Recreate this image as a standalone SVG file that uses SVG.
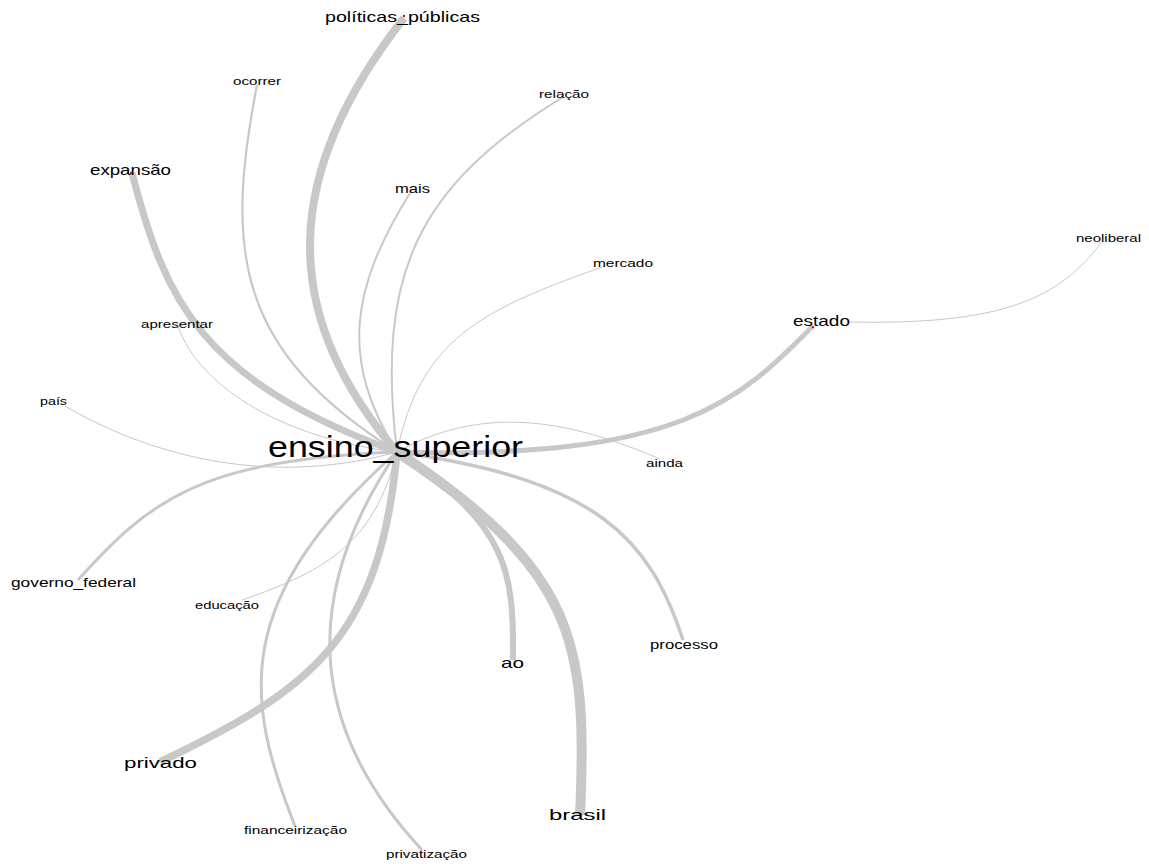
<svg xmlns="http://www.w3.org/2000/svg" width="1149" height="864" viewBox="0 0 1149 864">
<style>
.e{fill:none;stroke:#c8c8c8;stroke-linecap:butt}
.t{font-family:"Liberation Sans",Arial,sans-serif;fill:#000000}
.d{fill:#d01010}
</style>
<rect width="1149" height="864" fill="#ffffff"/>
<g id="connectors">
<path class="e" stroke-width="8" d="M404,18 C285,170 275,310 397,452"/>
<path class="e" stroke-width="2.2" d="M257,85 C225,250 235,350 397,452"/>
<path class="e" stroke-width="2" d="M563,97 C420,185 375,270 397,452"/>
<path class="e" stroke-width="7" d="M132,173 C165,300 200,380 397,452"/>
<path class="e" stroke-width="2" d="M410,193 C350,290 340,360 397,452"/>
<path class="e" stroke-width="1" d="M605,266 C480,310 420,340 397,452"/>
<path class="e" stroke-width="1" d="M1103,240 C1060,300 1000,325 850,322"/>
<path class="e" stroke-width="5" d="M813,326 C740,400 680,460 397,452"/>
<path class="e" stroke-width="1" d="M178,326 C200,390 290,440 397,452"/>
<path class="e" stroke-width="1" d="M65,406 C140,450 260,490 397,452"/>
<path class="e" stroke-width="1" d="M660,459 C580,425 490,400 397,452"/>
<path class="e" stroke-width="3" d="M78,580 C150,500 200,460 397,452"/>
<path class="e" stroke-width="1" d="M242,600 C330,570 375,540 397,452"/>
<path class="e" stroke-width="3.5" d="M683,640 C650,540 600,480 397,452"/>
<path class="e" stroke-width="6" d="M513,660 C514,570 508,525 397,452"/>
<path class="e" stroke-width="10" d="M580,815 C588,640 575,570 397,452"/>
<path class="e" stroke-width="7.5" d="M160,762 C310,690 380,640 397,452"/>
<path class="e" stroke-width="3" d="M295,826 C245,700 230,600 397,452"/>
<path class="e" stroke-width="3" d="M422,850 C320,740 290,610 397,452"/>
</g>
<g id="node-ensino_superior"><text class="t" x="268" y="457" font-size="29" textLength="255" lengthAdjust="spacingAndGlyphs">ensino_superior</text></g>
<g id="node-politicas_publicas"><text class="t" x="325" y="22" font-size="15" textLength="155" lengthAdjust="spacingAndGlyphs">políticas_públicas</text><circle class="d" cx="404" cy="16" r="1.2"/></g>
<g id="node-ocorrer"><text class="t" x="233" y="85" font-size="11" textLength="48" lengthAdjust="spacingAndGlyphs">ocorrer</text></g>
<g id="node-relacao"><text class="t" x="539" y="98" font-size="11.5" textLength="50" lengthAdjust="spacingAndGlyphs">relação</text><circle class="d" cx="563" cy="95" r="1"/></g>
<g id="node-expansao"><text class="t" x="90" y="175" font-size="15" textLength="81" lengthAdjust="spacingAndGlyphs">expansão</text><circle class="d" cx="131" cy="173" r="1.2"/></g>
<g id="node-mais"><text class="t" x="395" y="193" font-size="13" textLength="35" lengthAdjust="spacingAndGlyphs">mais</text><circle class="d" cx="411" cy="190" r="1"/></g>
<g id="node-mercado"><text class="t" x="593" y="267" font-size="11" textLength="60" lengthAdjust="spacingAndGlyphs">mercado</text></g>
<g id="node-neoliberal"><text class="t" x="1076" y="242" font-size="11" textLength="65" lengthAdjust="spacingAndGlyphs">neoliberal</text></g>
<g id="node-estado"><text class="t" x="793" y="326" font-size="14.5" textLength="57" lengthAdjust="spacingAndGlyphs">estado</text><circle class="d" cx="813" cy="327" r="1.2"/></g>
<g id="node-apresentar"><text class="t" x="141" y="328" font-size="11" textLength="72" lengthAdjust="spacingAndGlyphs">apresentar</text></g>
<g id="node-pais"><text class="t" x="40" y="405" font-size="11" textLength="27" lengthAdjust="spacingAndGlyphs">país</text></g>
<g id="node-ainda"><text class="t" x="646" y="467" font-size="11" textLength="37" lengthAdjust="spacingAndGlyphs">ainda</text></g>
<g id="node-governo_federal"><text class="t" x="11" y="587" font-size="13" textLength="125" lengthAdjust="spacingAndGlyphs">governo_federal</text></g>
<g id="node-educacao"><text class="t" x="195" y="609" font-size="11" textLength="64" lengthAdjust="spacingAndGlyphs">educação</text></g>
<g id="node-processo"><text class="t" x="650" y="649" font-size="12" textLength="68" lengthAdjust="spacingAndGlyphs">processo</text></g>
<g id="node-ao"><text class="t" x="501" y="668" font-size="14.5" textLength="23" lengthAdjust="spacingAndGlyphs">ao</text></g>
<g id="node-privado"><text class="t" x="124" y="768" font-size="15" textLength="73" lengthAdjust="spacingAndGlyphs">privado</text></g>
<g id="node-financeirizacao"><text class="t" x="244" y="834" font-size="11" textLength="103" lengthAdjust="spacingAndGlyphs">financeirização</text></g>
<g id="node-privatizacao"><text class="t" x="386" y="858" font-size="11" textLength="81" lengthAdjust="spacingAndGlyphs">privatização</text></g>
<g id="node-brasil"><text class="t" x="549" y="820" font-size="15" textLength="57" lengthAdjust="spacingAndGlyphs">brasil</text></g>
</svg>
